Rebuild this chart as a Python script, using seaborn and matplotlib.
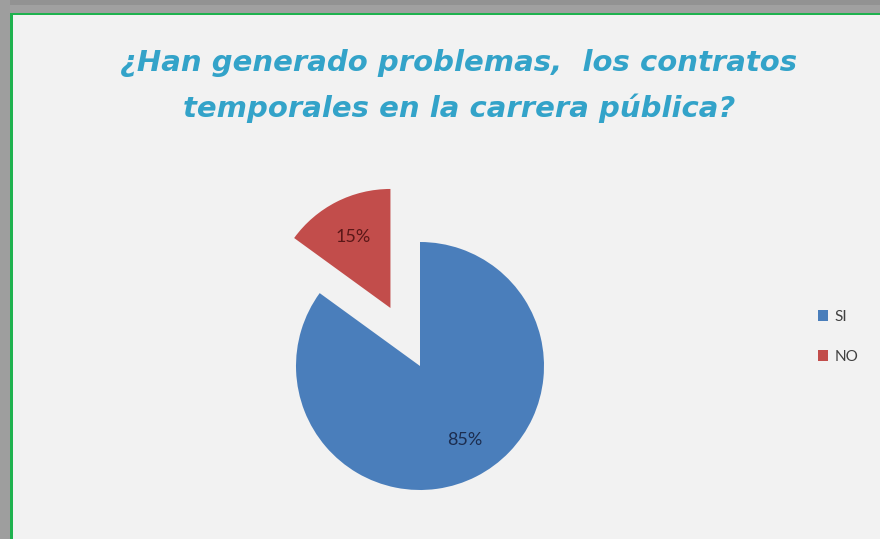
import matplotlib
matplotlib.use("Agg")
import matplotlib.pyplot as plt
import seaborn as sns
from matplotlib.patches import Rectangle

sns.set_theme(style="white")
plt.rcParams["font.family"] = ["DejaVu Sans"]

# Survey answers
categories = ["SI", "NO"]
shares = [85, 15]
colors = ["#4a7ebb", "#c24d4b"]
title = "¿Han generado problemas,  los contratos\ntemporales en la carrera pública?"

W, H = 880, 539
fig = plt.figure(figsize=(W / 100, H / 100), dpi=100)
fig.patch.set_facecolor("#f2f2f2")

# Frame: grey shadow bands and the green border line (pixel coordinates)
bg = fig.add_axes([0, 0, 1, 1], zorder=0)
bg.set_xlim(0, W)
bg.set_ylim(H, 0)
bg.axis("off")
bg.add_patch(Rectangle((0, 0), W, 13, color="#a0a0a0", lw=0))
bg.add_patch(Rectangle((0, 0), W, 5, color="#929292", lw=0))
bg.add_patch(Rectangle((0, 0), 10, H, color="#9e9e9e", lw=0))
bg.add_patch(Rectangle((10, 12.5), W - 10, 2.5, color="#1fb24f", lw=0))
bg.add_patch(Rectangle((10, 12.5), 2.5, H - 12.5, color="#1fb24f", lw=0))

# Pie axes: one data unit equals the pie radius (124 px), centre at (420, 366) px
R, cx, cy = 124.0, 420.0, 366.0
ax = fig.add_axes([0, 0, 1, 1], zorder=1)
ax.patch.set_alpha(0)
wedges, texts, autotexts = ax.pie(
    shares,
    colors=colors,
    startangle=90,
    counterclock=False,
    explode=[0, 0.525],
    radius=1.0,
    autopct=lambda p: f"{p:.0f}%",
    pctdistance=0.7,
    wedgeprops=dict(linewidth=0),
    textprops=dict(fontsize=13, family="Lato"),
)
# the detached slice is drawn a little smaller
wedges[1].set_radius(0.96)
autotexts[0].set_color("#1c2d4f")
autotexts[1].set_color("#5a1717")
autotexts[0].set_position((0.36, -0.6))
x1, y1 = autotexts[1].get_position()
autotexts[1].set_position((x1 + 0.02, y1 - 0.05))
ax.set_xlim(-cx / R, (W - cx) / R)
ax.set_ylim(-(H - cy) / R, cy / R)
ax.set_aspect("auto")
ax.axis("off")

ax.legend(
    wedges, categories,
    loc="center left", bbox_to_anchor=(804 / W, 1 - 337 / H),
    bbox_transform=fig.transFigure,
    frameon=False, handlelength=0.7, handleheight=0.7, handletextpad=0.4,
    labelspacing=1.7, prop=dict(family="Lato", size=11), labelcolor="#404040",
)

fig.text(459 / W, 1 - 86 / H, title, ha="center", va="center",
         fontsize=21, fontweight="bold", fontstyle="oblique",
         color="#33a3c9", linespacing=1.7)

fig.savefig("out.png", dpi=100, facecolor=fig.get_facecolor())
